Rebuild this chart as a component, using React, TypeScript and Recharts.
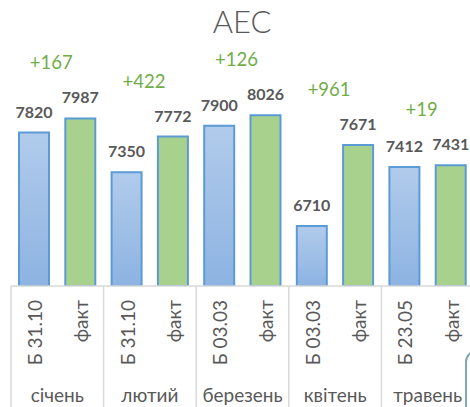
import React from 'react';
import { BarChart, Bar, XAxis, YAxis, Cell } from 'recharts';

const categories = ['Б 31.10', 'факт', 'Б 31.10', 'факт', 'Б 03.03', 'факт', 'Б 03.03', 'факт', 'Б 23.05', 'факт'];
const months = ['січень', 'лютий', 'березень', 'квітень', 'травень'];
const values = [7820, 7987, 7350, 7772, 7900, 8026, 6710, 7671, 7412, 7431];
const diffs = ['+167', '+422', '+126', '+961', '+19'];

const data = categories.map((name, i) => ({ name, value: values[i] }));

const GRAY = '#595959';
const GREEN_TEXT = '#70ad47';
const LINE = '#d9d9d9';

const AxisTick = (props: any) => {
    const { x, y, payload, index } = props;
    const half = payload && payload.offset > 0 ? payload.offset : 23.15;
    return (
        <g>
            <text
                x={0}
                y={0}
                dy="0.36em"
                textAnchor="end"
                fill={GRAY}
                fontSize={19}
                transform={`translate(${x + 1},${y + 14}) rotate(-90)`}
            >
                {payload.value}
            </text>
            {index % 2 === 0 && (
                <>
                    <line x1={x - half} y1={y} x2={x - half} y2={y + 125} stroke={LINE} strokeWidth={1.5} />
                    <text x={x + half} y={y + 116} textAnchor="middle" fill={GRAY} fontSize={19}>
                        {months[index / 2]}
                    </text>
                </>
            )}
            {index === categories.length - 1 && (
                <line x1={x + half} y1={y} x2={x + half} y2={y + 125} stroke={LINE} strokeWidth={1.5} />
            )}
        </g>
    );
};

const ValueLabel = (props: any) => {
    const { x, y, width, index, value } = props;
    const cx = x + width / 2;
    return (
        <g>
            <text x={cx} y={y - 15} textAnchor="middle" fill={GRAY} fontSize={16} fontWeight="bold">
                {value}
            </text>
            {index % 2 === 1 && (
                <text x={cx - 29} y={y - 49} textAnchor="middle" fill={GREEN_TEXT} fontSize={18.5}>
                    {diffs[(index - 1) / 2]}
                </text>
            )}
        </g>
    );
};

export default function App() {
    return (
        <div style={{ position: 'absolute', left: 0, top: 0, width: 470, height: 407, overflow: 'hidden', background: '#fff', fontFamily: 'Lato' }}>
            <BarChart
                width={490}
                height={407}
                data={data}
                margin={{ top: 33, right: 16, bottom: 0, left: 11 }}
                barCategoryGap={8}
                style={{ fontFamily: 'Lato' }}
            >
                <defs>
                    <linearGradient id="blueGrad" x1="0" y1="0" x2="0" y2="1">
                        <stop offset="0%" stopColor="#b1cbeb" />
                        <stop offset="100%" stopColor="#8db3e2" />
                    </linearGradient>
                </defs>
                <text x={242} y={33} textAnchor="middle" fill={GRAY} fontSize={31} fontWeight={300}>
                    АЕС
                </text>
                <YAxis hide domain={[6000, 9000]} allowDataOverflow />
                <XAxis
                    dataKey="name"
                    interval={0}
                    height={121}
                    tickLine={false}
                    tickSize={0}
                    tickMargin={0}
                    axisLine={{ stroke: LINE, strokeWidth: 1.5 }}
                    tick={<AxisTick />}
                />
                <Bar
                    dataKey="value"
                    isAnimationActive={false}
                    stroke="#5b9bd5"
                    strokeWidth={2}
                    label={<ValueLabel />}
                >
                    {data.map((d, i) => (
                        <Cell key={`cell-${i}`} fill={i % 2 === 0 ? 'url(#blueGrad)' : '#a9d18e'} />
                    ))}
                </Bar>
            </BarChart>
            <div
                style={{
                    position: 'absolute',
                    left: 465,
                    top: 350,
                    width: 30,
                    height: 80,
                    border: '2px solid #7fa9b6',
                    borderRadius: 12,
                }}
            />
        </div>
    );
}
